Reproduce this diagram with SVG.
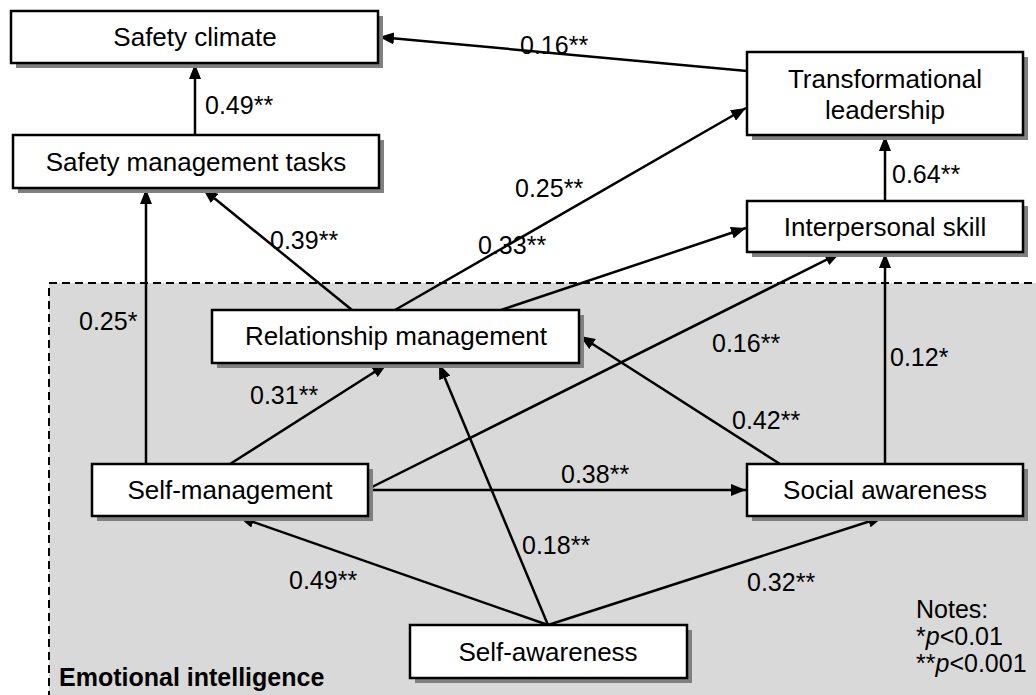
<svg xmlns="http://www.w3.org/2000/svg" width="1036" height="695" viewBox="0 0 1036 695">
<style>
text{font-family:"Liberation Sans",Arial,sans-serif;font-size:25px;fill:#000}
.box{fill:#fff;stroke:#000;stroke-width:2.5}
.sh{fill:#808080}
.c{stroke:#000;stroke-width:2.5;fill:none;marker-end:url(#ah)}
.nt{text-anchor:middle;font-size:26px}
</style>
<defs>
<marker id="ah" markerUnits="userSpaceOnUse" markerWidth="16" markerHeight="12" refX="15" refY="6" orient="auto">
<path d="M0,0 L15,6 L0,12 z" fill="#000"/>
</marker>
</defs>
<rect width="1036" height="695" fill="#fff"/>
<g id="ei-region">
<rect x="49" y="283" width="1000" height="430" fill="#d9d9d9" stroke="#000" stroke-width="2" stroke-dasharray="8,5"/>
<text x="59" y="686" font-weight="bold" font-size="26">Emotional intelligence</text>
</g>
<g id="connectors">
<line class="c" x1="747" y1="71" x2="379" y2="37"/>
<line class="c" x1="195" y1="135" x2="195" y2="64"/>
<line class="c" x1="885" y1="201" x2="885" y2="136"/>
<line class="c" x1="146" y1="464" x2="146" y2="189"/>
<line class="c" x1="352" y1="310" x2="203" y2="189"/>
<line class="c" x1="395" y1="310" x2="746" y2="108"/>
<line class="c" x1="501" y1="310" x2="746" y2="228"/>
<line class="c" x1="368" y1="489" x2="840" y2="253"/>
<line class="c" x1="885" y1="464" x2="885" y2="253"/>
<line class="c" x1="780" y1="464" x2="580" y2="336"/>
<line class="c" x1="230" y1="464" x2="387" y2="364"/>
<line class="c" x1="368" y1="490" x2="746" y2="490"/>
<line class="c" x1="548" y1="625" x2="239" y2="517"/>
<line class="c" x1="548" y1="625" x2="439" y2="364"/>
<line class="c" x1="548" y1="625" x2="883" y2="517"/>
<text x="520" y="54">0.16**</text>
<text x="205" y="114">0.49**</text>
<text x="515" y="197">0.25**</text>
<text x="892" y="183">0.64**</text>
<text x="270" y="249">0.39**</text>
<text x="478" y="254">0.33**</text>
<text x="79" y="330">0.25*</text>
<text x="712" y="352">0.16**</text>
<text x="890" y="366">0.12*</text>
<text x="250" y="404">0.31**</text>
<text x="732" y="429">0.42**</text>
<text x="561" y="483">0.38**</text>
<text x="522" y="554">0.18**</text>
<text x="289" y="589">0.49**</text>
<text x="747" y="591">0.32**</text>
</g>
<g id="safety-climate">
<rect class="sh" x="16" y="16" width="367" height="52"/>
<rect class="box" x="11" y="11" width="367" height="52"/>
<text class="nt" x="195" y="46">Safety climate</text>
</g>
<g id="safety-management-tasks">
<rect class="sh" x="18" y="140" width="366" height="53"/>
<rect class="box" x="13" y="135" width="366" height="53"/>
<text class="nt" x="196" y="171">Safety management tasks</text>
</g>
<g id="transformational-leadership">
<rect class="sh" x="752" y="57" width="276" height="83"/>
<rect class="box" x="747" y="52" width="276" height="83"/>
<text class="nt" x="885" y="88">Transformational</text>
<text class="nt" x="885" y="119">leadership</text>
</g>
<g id="interpersonal-skill">
<rect class="sh" x="752" y="206" width="276" height="51"/>
<rect class="box" x="747" y="201" width="276" height="51"/>
<text class="nt" x="885" y="236">Interpersonal skill</text>
</g>
<g id="relationship-management">
<rect class="sh" x="217" y="315" width="367" height="53"/>
<rect class="box" x="212" y="310" width="367" height="53"/>
<text class="nt" x="396" y="345">Relationship management</text>
</g>
<g id="self-management">
<rect class="sh" x="97" y="469" width="276" height="52"/>
<rect class="box" x="92" y="464" width="276" height="52"/>
<text class="nt" x="230" y="499">Self-management</text>
</g>
<g id="social-awareness">
<rect class="sh" x="752" y="469" width="276" height="52"/>
<rect class="box" x="747" y="464" width="276" height="52"/>
<text class="nt" x="885" y="499">Social awareness</text>
</g>
<g id="self-awareness">
<rect class="sh" x="415" y="630" width="277" height="53"/>
<rect class="box" x="410" y="625" width="277" height="53"/>
<text class="nt" x="548" y="661">Self-awareness</text>
</g>
<g id="notes">
<text x="916" y="618">Notes:</text>
<text x="916" y="645">*<tspan font-style="italic">p</tspan>&lt;0.01</text>
<text x="916" y="672">**<tspan font-style="italic">p</tspan>&lt;0.001</text>
</g>
</svg>
